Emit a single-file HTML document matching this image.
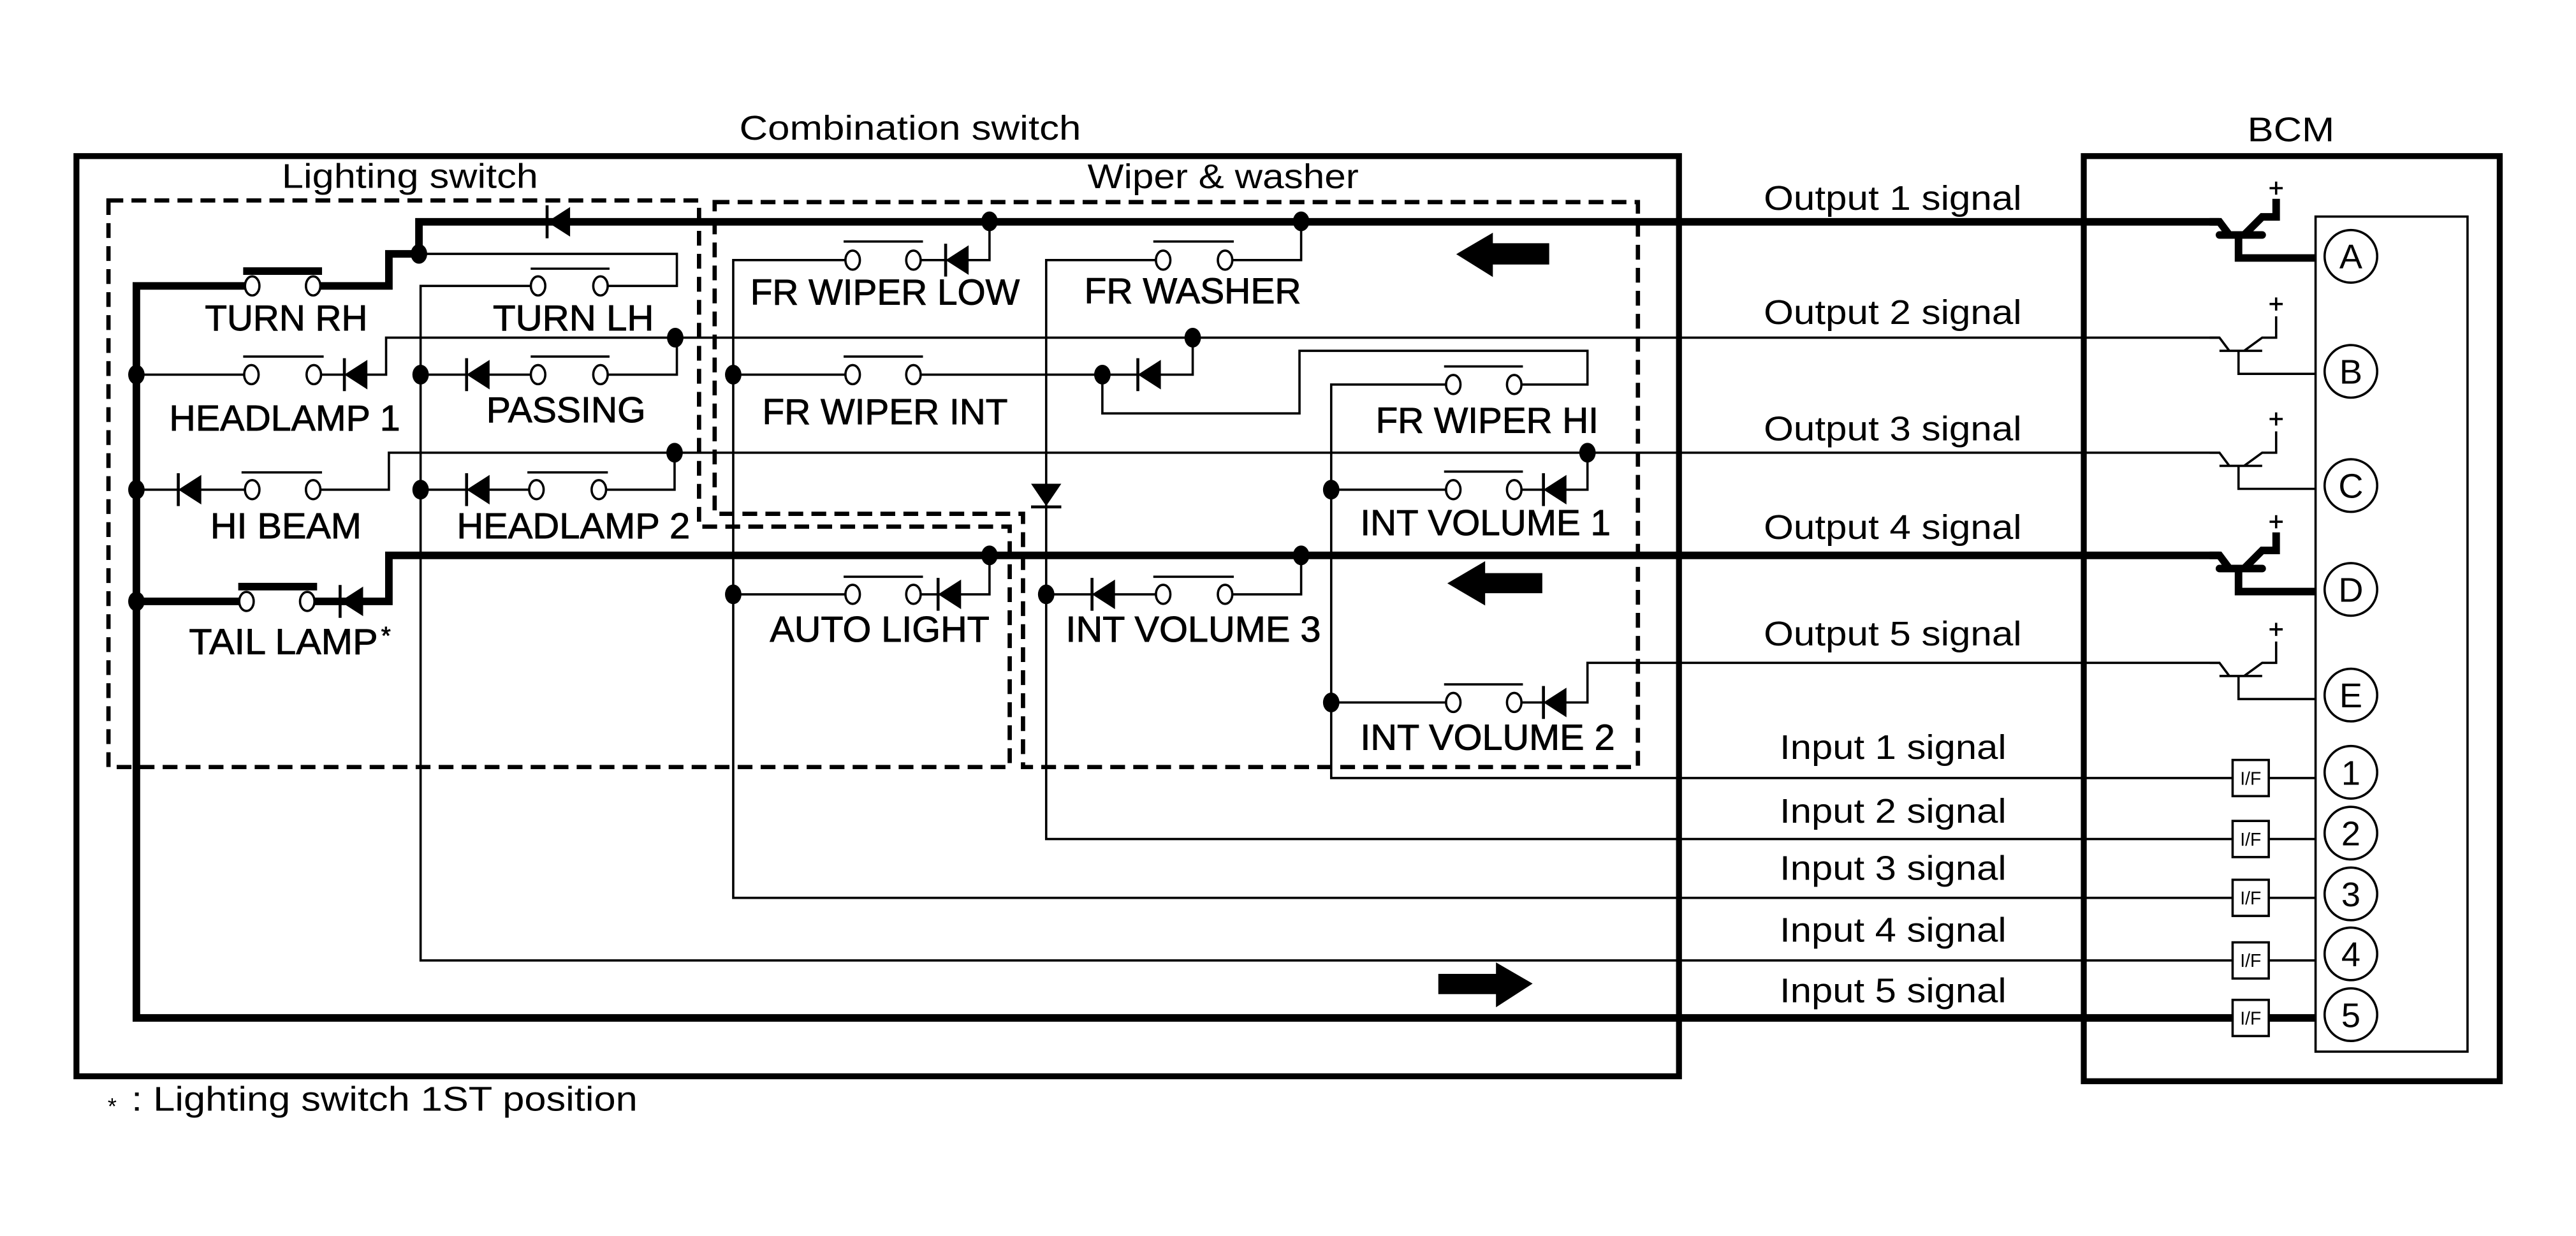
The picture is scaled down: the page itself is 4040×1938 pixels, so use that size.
<!DOCTYPE html>
<html><head><meta charset="utf-8"><style>
html,body{margin:0;padding:0;background:#fff}
svg{display:block}
text{font-family:"Liberation Sans",Arial,sans-serif;fill:#000}
.lb text{stroke:#000;stroke-width:0.35}
.t{fill:none;stroke:#000;stroke-width:1.4}
.k{fill:none;stroke:#000;stroke-width:4.6}
.bx{fill:none;stroke:#000;stroke-width:3.6}
.ds{fill:none;stroke:#000;stroke-width:2.6;stroke-dasharray:9 5}
</style></head><body>
<svg width="4040" height="1938" viewBox="0 0 1568 752.2" xmlns="http://www.w3.org/2000/svg">
<defs>
<ellipse id="c" rx="4.4" ry="5.8" fill="#fff" stroke="#000" stroke-width="1.4"/>
<g id="dl"><polygon points="0,0 14,-9 14,9" fill="#000"/><line x1="0" y1="-10" x2="0" y2="10" stroke="#000" stroke-width="1.8"/></g>
<ellipse id="d" rx="5" ry="6" fill="#000"/>
</defs>
<rect width="1568" height="752.2" fill="#fff"/>

<rect class="bx" x="46.5" y="95" width="975.5" height="560"/>
<rect class="bx" x="1268.4" y="95" width="253.2" height="563"/>
<rect class="t" x="1409.5" y="131.8" width="92.5" height="508.2"/>
<path class="ds" d="M66,122 H425.5 V320.5 H614.6 V466.8 H66 Z"/>
<path class="ds" d="M435,123 H997 V466.8 H622.7 V312.7 H435 Z"/>

<text x="450" y="85" font-size="21" textLength="208" lengthAdjust="spacingAndGlyphs">Combination switch</text>
<text x="171.5" y="114.4" font-size="21" textLength="156" lengthAdjust="spacingAndGlyphs">Lighting switch</text>
<text x="662" y="114.5" font-size="21" textLength="165" lengthAdjust="spacingAndGlyphs">Wiper &amp; washer</text>
<text x="1368" y="86" font-size="21" textLength="53" lengthAdjust="spacingAndGlyphs">BCM</text>

<path class="k" d="M1351,135 H255 V154.5 H236.7 V174 H190.6"/>
<path class="k" d="M153.5,174 H83 V619.5 H1359"/>
<path class="k" d="M1381,619.5 H1409"/>
<path class="k" d="M1351,338 H236.7 V366 H187"/>
<path class="k" d="M150,366 H83"/>
<line class="k" x1="148" y1="165" x2="196" y2="165"/>
<line class="k" x1="145" y1="357" x2="193" y2="357"/>

<path class="t" d="M255,154.5 H412 V174 H365.5"/>
<path class="t" d="M327.5,174 H256 V584.5 H1359"/>
<path class="t" d="M83,228 H153"/>
<path class="t" d="M191,228 H235 V205.5 H1351"/>
<path class="t" d="M256,228 H327.5"/>
<path class="t" d="M365.5,228 H412 V205.5"/>
<path class="t" d="M83,298 H153.5"/>
<path class="t" d="M190.6,298 H236.7 V275.5 H1351"/>
<path class="t" d="M255.7,298 H326.5"/>
<path class="t" d="M364.5,298 H410.6 V275.5"/>
<line class="t" x1="323" y1="163.5" x2="371" y2="163.5"/>
<line class="t" x1="148" y1="217" x2="197" y2="217"/>
<line class="t" x1="323" y1="217" x2="371" y2="217"/>
<line class="t" x1="147" y1="287.5" x2="196" y2="287.5"/>
<line class="t" x1="321" y1="287.5" x2="370" y2="287.5"/>

<path class="t" d="M602.3,134.7 V158.3 H556"/>
<path class="t" d="M519,158.3 H446.3 V546.4 H1359"/>
<path class="t" d="M792,134.7 V158.3 H745.7"/>
<path class="t" d="M708,158.3 H636.8 V510.6 H1359"/>
<path class="t" d="M446.3,228 H519"/>
<path class="t" d="M556,228 H726 V205.5"/>
<path class="t" d="M671,228 V251.6 H791 V213.5 H966.3 V234 H921.7"/>
<path class="t" d="M884.6,234 H810.3 V473.5 H1359"/>
<path class="t" d="M810.3,298 H884.6"/>
<path class="t" d="M921.7,298 H966.3 V275.5"/>
<path class="t" d="M446.3,361.7 H519"/>
<path class="t" d="M556,361.7 H602.3 V338"/>
<path class="t" d="M636.8,361.7 H708"/>
<path class="t" d="M745.7,361.7 H792 V338"/>
<path class="t" d="M810.3,427.5 H884.6"/>
<path class="t" d="M921.7,427.5 H966.3 V403.4 H1351"/>
<path class="t" d="M1381,473.5 H1409 M1381,510.6 H1409 M1381,546.4 H1409 M1381,584.5 H1409"/>
<line class="t" x1="513.5" y1="147" x2="561.8" y2="147"/>
<line class="t" x1="702" y1="147" x2="751" y2="147"/>
<line class="t" x1="513.5" y1="217" x2="561.8" y2="217"/>
<line class="t" x1="879" y1="223" x2="927" y2="223"/>
<line class="t" x1="879" y1="287" x2="927" y2="287"/>
<line class="t" x1="513.5" y1="351" x2="561.8" y2="351"/>
<line class="t" x1="702" y1="351" x2="751" y2="351"/>
<line class="t" x1="879" y1="416.5" x2="927" y2="416.5"/>

<use href="#c" x="153.5" y="174"/><use href="#c" x="190.6" y="174"/>
<use href="#c" x="327.5" y="174"/><use href="#c" x="365.5" y="174"/>
<use href="#c" x="153" y="228"/><use href="#c" x="191" y="228"/>
<use href="#c" x="327.5" y="228"/><use href="#c" x="365.5" y="228"/>
<use href="#c" x="153.5" y="298"/><use href="#c" x="190.6" y="298"/>
<use href="#c" x="326.5" y="298"/><use href="#c" x="364.5" y="298"/>
<use href="#c" x="150" y="366"/><use href="#c" x="187" y="366"/>
<use href="#c" x="519" y="158.3"/><use href="#c" x="556" y="158.3"/>
<use href="#c" x="708" y="158.3"/><use href="#c" x="745.7" y="158.3"/>
<use href="#c" x="519" y="228"/><use href="#c" x="556" y="228"/>
<use href="#c" x="884.6" y="234"/><use href="#c" x="921.7" y="234"/>
<use href="#c" x="884.6" y="298"/><use href="#c" x="921.7" y="298"/>
<use href="#c" x="519" y="361.7"/><use href="#c" x="556" y="361.7"/>
<use href="#c" x="708" y="361.7"/><use href="#c" x="745.7" y="361.7"/>
<use href="#c" x="884.6" y="427.5"/><use href="#c" x="921.7" y="427.5"/>

<use href="#dl" x="333" y="135"/>
<use href="#dl" x="209.6" y="228"/>
<use href="#dl" x="284" y="228"/>
<use href="#dl" x="108.5" y="298"/>
<use href="#dl" x="284" y="298"/>
<use href="#dl" x="207" y="366"/>
<use href="#dl" x="575.6" y="158.3"/>
<use href="#dl" x="692.6" y="228"/>
<use href="#dl" x="939.5" y="298"/>
<use href="#dl" x="571" y="361.7"/>
<use href="#dl" x="664.7" y="361.7"/>
<use href="#dl" x="939.5" y="427.5"/>
<polygon points="627.6,294.4 646,294.4 636.8,308" fill="#000"/>
<line x1="627.6" y1="308.5" x2="646" y2="308.5" stroke="#000" stroke-width="1.8"/>

<use href="#d" x="255" y="154.5"/><use href="#d" x="411" y="205.5"/><use href="#d" x="410.6" y="275.5"/>
<use href="#d" x="83" y="228"/><use href="#d" x="83" y="298"/><use href="#d" x="83" y="366"/>
<use href="#d" x="256" y="228"/><use href="#d" x="256" y="298"/>
<use href="#d" x="602.3" y="134.7"/><use href="#d" x="792" y="134.7"/><use href="#d" x="726" y="205.5"/>
<use href="#d" x="446.3" y="228"/><use href="#d" x="671" y="228"/>
<use href="#d" x="966.3" y="275.5"/><use href="#d" x="810.3" y="298"/>
<use href="#d" x="602.3" y="338"/><use href="#d" x="792" y="338"/>
<use href="#d" x="446.3" y="361.7"/><use href="#d" x="636.8" y="361.7"/>
<use href="#d" x="810.3" y="427.5"/>

<polygon points="886.4,154.7 908.7,141.6 908.7,148 943,148 943,161 908.7,161 908.7,168.6" fill="#000"/>
<polygon points="881,355 904,341.5 904,348.8 938.8,348.8 938.8,361 904,361 904,368.5" fill="#000"/>
<polygon points="932.9,598.6 910.6,585.7 910.6,592.7 875.5,592.7 875.5,605 910.6,605 910.6,613" fill="#000"/>

<g fill="none" stroke="#000" stroke-width="4.6">
<path d="M1345,135 H1351 L1357,143"/><path d="M1351,143 H1377" stroke-linecap="round"/>
<path d="M1366,143 L1377,132 H1385.5 V121" /><path d="M1362.6,143 V157 H1409"/>
<path d="M1345,338 H1351 L1357,346"/><path d="M1351,346 H1377" stroke-linecap="round"/>
<path d="M1366,346 L1377,335 H1385.5 V324"/><path d="M1362.6,346 V360 H1409"/>
</g>
<g fill="none" stroke="#000" stroke-width="1.4">
<path d="M1345,205.5 H1351 L1357,213.5 M1351,213.5 H1377 M1366,213.5 L1377,205.5 H1385.5 V192.5 M1362.6,213.5 V227.5 H1409"/>
<path d="M1345,275.5 H1351 L1357,283.5 M1351,283.5 H1377 M1366,283.5 L1377,275.5 H1385.5 V262.5 M1362.6,283.5 V297.5 H1409"/>
<path d="M1345,403.4 H1351 L1357,411.4 M1351,411.4 H1377 M1366,411.4 L1377,403.4 H1385.5 V390.4 M1362.6,411.4 V425.4 H1409"/>
<path d="M1381.5,114.5 H1389.5 M1385.5,110.5 V118.5 M1381.5,185 H1389.5 M1385.5,181 V189 M1381.5,255 H1389.5 M1385.5,251 V259 M1381.5,317.5 H1389.5 M1385.5,313.5 V321.5 M1381.5,383 H1389.5 M1385.5,379 V387"/>
</g>

<g fill="#fff" stroke="#000" stroke-width="1.4">
<rect x="1359" y="462.5" width="22" height="22"/>
<rect x="1359" y="499.6" width="22" height="22"/>
<rect x="1359" y="535.4" width="22" height="22"/>
<rect x="1359" y="573.5" width="22" height="22"/>
<rect x="1359" y="608.5" width="22" height="22"/>
</g>
<g font-size="11" text-anchor="middle">
<text x="1370" y="477.5">I/F</text>
<text x="1370" y="514.6">I/F</text>
<text x="1370" y="550.4">I/F</text>
<text x="1370" y="588.5">I/F</text>
<text x="1370" y="623.5">I/F</text>
</g>

<g fill="#fff" stroke="#000" stroke-width="1.4">
<circle cx="1431" cy="156" r="16"/><circle cx="1431" cy="226" r="16"/><circle cx="1431" cy="295.5" r="16"/>
<circle cx="1431" cy="358.7" r="16"/><circle cx="1431" cy="423" r="16"/><circle cx="1431" cy="470" r="16"/>
<circle cx="1431" cy="507" r="16"/><circle cx="1431" cy="544" r="16"/><circle cx="1431" cy="580.5" r="16"/>
<circle cx="1431" cy="617.5" r="16"/>
</g>
<g font-size="21" text-anchor="middle">
<text x="1431" y="163.5">A</text><text x="1431" y="233.5">B</text><text x="1431" y="303">C</text>
<text x="1431" y="366.2">D</text><text x="1431" y="430.5">E</text><text x="1431" y="477.5">1</text>
<text x="1431" y="514.5">2</text><text x="1431" y="551.5">3</text><text x="1431" y="588">4</text>
<text x="1431" y="625">5</text>
</g>

<g class="lb" font-size="22">
<text x="124.7" y="201" textLength="99" lengthAdjust="spacingAndGlyphs">TURN RH</text>
<text x="300" y="201" textLength="98" lengthAdjust="spacingAndGlyphs">TURN LH</text>
<text x="103" y="262" textLength="140.6" lengthAdjust="spacingAndGlyphs">HEADLAMP 1</text>
<text x="296" y="257" textLength="97" lengthAdjust="spacingAndGlyphs">PASSING</text>
<text x="128" y="327.6" textLength="92" lengthAdjust="spacingAndGlyphs">HI BEAM</text>
<text x="278" y="327.6" textLength="142" lengthAdjust="spacingAndGlyphs">HEADLAMP 2</text>
<text x="115" y="398" textLength="115" lengthAdjust="spacingAndGlyphs">TAIL LAMP</text>
<text x="232" y="392" font-size="15">*</text>
<text x="456.7" y="185.3" textLength="164" lengthAdjust="spacingAndGlyphs">FR WIPER LOW</text>
<text x="660" y="184.6" textLength="132" lengthAdjust="spacingAndGlyphs">FR WASHER</text>
<text x="464" y="258.2" textLength="149.4" lengthAdjust="spacingAndGlyphs">FR WIPER INT</text>
<text x="837.4" y="263.4" textLength="135.6" lengthAdjust="spacingAndGlyphs">FR WIPER HI</text>
<text x="828" y="325.7" textLength="152.4" lengthAdjust="spacingAndGlyphs">INT VOLUME 1</text>
<text x="468.6" y="390.4" textLength="133.7" lengthAdjust="spacingAndGlyphs">AUTO LIGHT</text>
<text x="648.7" y="390.4" textLength="155.3" lengthAdjust="spacingAndGlyphs">INT VOLUME 3</text>
<text x="828" y="456.2" textLength="155" lengthAdjust="spacingAndGlyphs">INT VOLUME 2</text>
</g>

<g font-size="21">
<text x="1073.6" y="127.7" textLength="157" lengthAdjust="spacingAndGlyphs">Output 1 signal</text>
<text x="1073.6" y="197.2" textLength="157" lengthAdjust="spacingAndGlyphs">Output 2 signal</text>
<text x="1073.6" y="268" textLength="157" lengthAdjust="spacingAndGlyphs">Output 3 signal</text>
<text x="1073.6" y="328" textLength="157" lengthAdjust="spacingAndGlyphs">Output 4 signal</text>
<text x="1073.6" y="392.7" textLength="157" lengthAdjust="spacingAndGlyphs">Output 5 signal</text>
<text x="1083.3" y="461.8" textLength="138" lengthAdjust="spacingAndGlyphs">Input 1 signal</text>
<text x="1083.3" y="500.6" textLength="138" lengthAdjust="spacingAndGlyphs">Input 2 signal</text>
<text x="1083.3" y="535.4" textLength="138" lengthAdjust="spacingAndGlyphs">Input 3 signal</text>
<text x="1083.3" y="573" textLength="138" lengthAdjust="spacingAndGlyphs">Input 4 signal</text>
<text x="1083.3" y="609.9" textLength="138" lengthAdjust="spacingAndGlyphs">Input 5 signal</text>
</g>

<text x="65.5" y="678" font-size="14">*</text>
<text x="80" y="676" font-size="21" textLength="308" lengthAdjust="spacingAndGlyphs">: Lighting switch 1ST position</text>
</svg>
</body></html>
